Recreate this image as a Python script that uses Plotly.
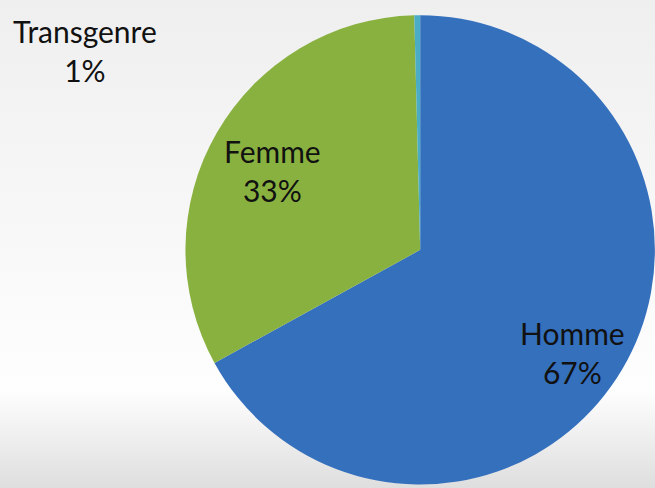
import base64
import plotly.graph_objects as go

# ---- data ----
labels = ["Homme", "Femme", "Transgenre"]
values = [67.0, 32.6, 0.4]
pct_labels = ["67%", "33%", "1%"]
colors = ["#3570bd", "#89b13f", "#4bacc6"]

W, H = 655, 488

# background vertical gradient (styling only)
svg = (
    '<svg xmlns="http://www.w3.org/2000/svg" width="655" height="488" preserveAspectRatio="none">'
    '<defs><linearGradient id="g" x1="0" y1="0" x2="0" y2="1">'
    '<stop offset="0" stop-color="#efefef"/>'
    '<stop offset="0.5" stop-color="#f8f8f8"/>'
    '<stop offset="0.8" stop-color="#fefefe"/>'
    '<stop offset="1" stop-color="#dedede"/>'
    '</linearGradient></defs>'
    '<rect x="0" y="0" width="655" height="488" fill="url(#g)"/></svg>'
)
bg_src = "data:image/svg+xml;base64," + base64.b64encode(svg.encode()).decode()

fig = go.Figure()
fig.add_trace(go.Pie(
    labels=labels,
    values=values,
    sort=False,
    direction="clockwise",
    rotation=0,
    marker=dict(colors=colors, line=dict(width=0)),
    textinfo="none",
    hoverinfo="label+percent",
    showlegend=False,
    domain=dict(x=[0.283, 1.0], y=[0.007, 0.969]),
))

# label positions (paper fractions) for each slice's text
label_pos = [(572 / W, 1 - 352 / H), (272 / W, 1 - 170 / H), (85 / W, 1 - 50 / H)]
for lab, pct, (px, py) in zip(labels, pct_labels, label_pos):
    fig.add_annotation(
        x=px, y=py, xref="paper", yref="paper",
        text=f"{lab}<br>{pct}", showarrow=False,
        xanchor="center", yanchor="middle",
        font=dict(family="Lato, sans-serif", size=30, color="#111111"),
        align="center",
    )

fig.update_layout(
    width=W, height=H,
    margin=dict(l=0, r=0, t=0, b=0),
    paper_bgcolor="#f4f4f4",
    plot_bgcolor="rgba(0,0,0,0)",
    images=[dict(source=bg_src, xref="paper", yref="paper", x=0, y=1,
                 sizex=1, sizey=1, xanchor="left", yanchor="top",
                 sizing="stretch", layer="below")],
)

fig.write_html("out.html", config={"displayModeBar": False},
               post_script="document.body.style.margin='0';")
